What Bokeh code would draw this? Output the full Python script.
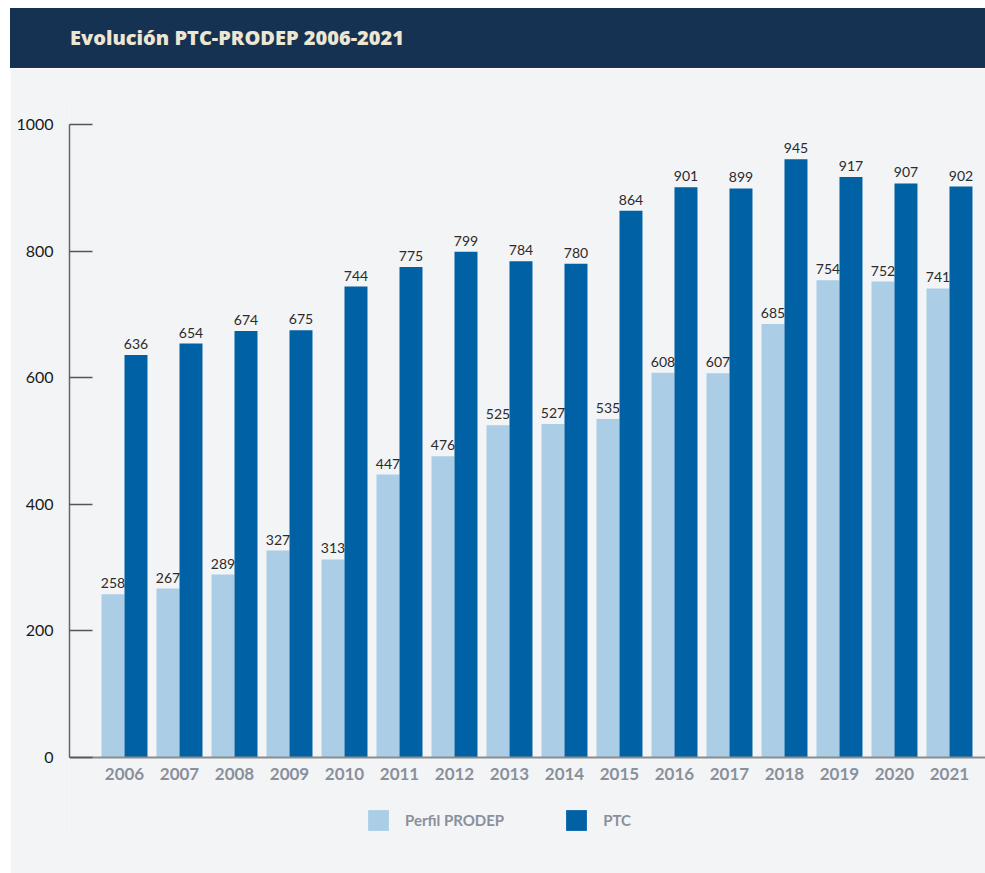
from bokeh.plotting import figure
from bokeh.models import (ColumnDataSource, Range1d, FixedTicker, Legend, LegendItem,
                          Div, LabelSet)
from bokeh.layouts import column
from bokeh.embed import file_html
from bokeh.resources import INLINE
from bokeh.core.properties import value

years = ["2006", "2007", "2008", "2009", "2010", "2011", "2012", "2013",
         "2014", "2015", "2016", "2017", "2018", "2019", "2020", "2021"]
perfil = [258, 267, 289, 327, 313, 447, 476, 525, 527, 535, 608, 607, 685, 754, 752, 741]
ptc = [636, 654, 674, 675, 744, 775, 799, 784, 780, 864, 901, 899, 945, 917, 907, 902]
y_ticks = [0, 200, 400, 600, 800, 1000]

LIGHT = "#abcee6"
DARK = "#0061a5"
BG = "#f3f4f6"
BW = 0.418

idx = list(range(len(years)))
src = ColumnDataSource(dict(
    x1=[i - BW / 2 for i in idx], x2=[i + BW / 2 for i in idx],
    perfil=perfil, ptc=ptc,
    lp=[str(v) for v in perfil], lt=[str(v) for v in ptc]))

p = figure(width=975, height=805, output_backend="svg", toolbar_location=None,
           x_range=Range1d(-1, 15.655), y_range=Range1d(-120, 1038),
           min_border_left=59, min_border_right=0, min_border_top=32, min_border_bottom=40,
           background_fill_color=BG, border_fill_color=BG, outline_line_color=None,
           margin=(0, 0, 0, 10))
p.grid.visible = False

r1 = p.vbar(x="x1", top="perfil", width=BW, source=src, color=LIGHT, line_color=None)
r2 = p.vbar(x="x2", top="ptc", width=BW, source=src, color=DARK, line_color=None)

for xcol, ycol, tcol in [("x1", "perfil", "lp"), ("x2", "ptc", "lt")]:
    p.add_layout(LabelSet(x=xcol, y=ycol, text=tcol, source=src, text_align="center",
                          text_baseline="bottom", y_offset=6, text_font=value("Lato"),
                          text_font_size="14px", text_color="#2b2b2b"))

# y axis
ya = p.yaxis[0]
ya.ticker = FixedTicker(ticks=y_ticks)
ya.bounds = (0, 1000)
ya.major_tick_in = 23
ya.major_tick_out = 0
ya.minor_tick_line_color = None
ya.major_tick_line_color = "#555555"
ya.major_tick_line_width = 1.3
ya.axis_line_color = "#666666"
ya.axis_line_width = 1.5
ya.major_label_standoff = 16
ya.major_label_text_font = "Lato"
ya.major_label_text_font_size = "16px"
ya.major_label_text_color = "#1a1a1a"

# x axis
xa = p.xaxis[0]
xa.fixed_location = 0
xa.ticker = FixedTicker(ticks=idx)
xa.major_label_overrides = {i: y for i, y in zip(idx, years)}
xa.major_tick_line_color = None
xa.minor_tick_line_color = None
xa.axis_line_color = "#8c8c8c"
xa.axis_line_width = 2
xa.major_label_standoff = 4
xa.major_label_text_font = "Lato"
xa.major_label_text_font_style = "bold"
xa.major_label_text_font_size = "17px"
xa.major_label_text_color = "#8a909b"

legend = Legend(items=[LegendItem(label="Perfil PRODEP", renderers=[r1]),
                       LegendItem(label="PTC", renderers=[r2])],
                orientation="horizontal", location=(296, 0),
                glyph_width=26, glyph_height=26, label_standoff=14,
                label_width=78, spacing=59, padding=0, margin=0,
                background_fill_alpha=0, border_line_alpha=0,
                label_text_font="Lato", label_text_font_style="bold",
                label_text_font_size="15px", label_text_color="#8a909b")
p.add_layout(legend)

header = Div(text='<div style="padding-left:60px;line-height:60px;font-family:\'Open Sans\';'
                  'font-weight:800;font-size:20px;color:#ece6d2;white-space:nowrap;">'
                  'Evolución PTC-PRODEP 2006-2021</div>',
             width=975, height=60, margin=(8, 0, 0, 10),
             styles={"background-color": "#163253"})

layout = column(header, p, spacing=0)
open("out.html", "w").write(file_html(layout, INLINE))
